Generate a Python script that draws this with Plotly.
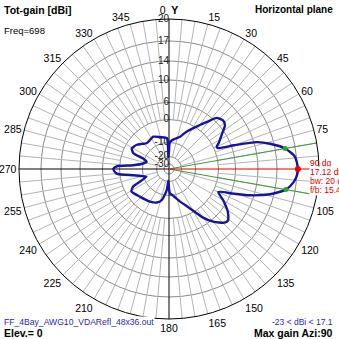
import numpy as np
import plotly.graph_objects as go

# ---------------- data ----------------
azimuth_deg = [0, 2, 10, 19, 25, 33, 39, 43, 48, 52, 57, 62, 65, 67, 70, 73, 76, 80, 84, 87,
               90, 93, 96, 100, 104, 108, 111, 115, 120, 126, 131, 134, 140, 145, 152, 161,
               170, 178, 180, 183, 186, 193, 200, 210, 226, 239, 244, 251, 256, 260, 265,
               270, 273, 276, 282, 288, 292, 294, 299, 307, 313, 319, 326, 334, 345, 356,
               357, 360]
gain_dbi = [-16, -9.7, -8.3, -6.7, -3.6, 0.4, 3.9, 6.6, 7.1, 6.8, 4.7, 2.5, 1.1, 1.4, 6.5,
            10.6, 13.2, 15.5, 16.7, 17.0, 17.12, 17.0, 16.6, 15.6, 13.2, 9.3, 6.4, 1.7, 4.6,
            7.1, 8.1, 7.9, 6.4, 3.5, -2.1, -6.5, -9.5, -11.6, -15, -21, -13.9, -7.7, -6.0,
            -5.1, -4.1, -2.5, -4.2, -11.8, -9.0, -5.8, 1.1, 2.2, 1.0, -5.9, -10.0, -12.1,
            -9.4, -4.6, -3.0, -4.0, -5.5, -6.7, -6.5, -5.9, -7.2, -8.1, -21, -16]

max_azi = [90]
max_gain = [17.12]
bw_azi = [80, 100]
bw_gain = [15.5, 15.6]

ring_db = [-30, -20, -10, 0, 6, 10, 14, 17, 20]
ring_labels = ["-30", "-20", "-10", "0", "6", "10", "14", "17", "20"]
azi_ticks = list(range(0, 360, 15))
# the 90 label is covered by the max-gain readout in the original
azi_ticktext = ["0  <b>Y</b>"] + [("" if a == 90 else str(a)) for a in azi_ticks[1:]]

# ------------- radial scale (ARRL-like, dB -> pixel radius) -------------
RING_PX = [5, 12.5, 26.5, 49.5, 66.5, 89, 108, 128, 150]
RMAX = 150.0


def rs(db):
    return np.interp(np.asarray(db, dtype=float), ring_db, RING_PX)


FONT = "Liberation Sans Narrow, Arial Narrow, Liberation Sans, sans-serif"
fig = go.Figure()

# spokes
sp_r, sp_t = [], []
for a in range(0, 360, 5):
    if a % 90 == 0:
        continue
    r0 = rs(-20) if a % 15 == 0 else rs(0)
    sp_r += [float(r0), RMAX, None]
    sp_t += [a, a, None]
fig.add_trace(go.Scatterpolar(r=sp_r, theta=sp_t, mode="lines", connectgaps=False,
                              line=dict(color="#b4b4b4", width=1), hoverinfo="skip"))

# black axes
fig.add_trace(go.Scatterpolar(r=[RMAX, 0, RMAX], theta=[0, 0, 180], mode="lines",
                              line=dict(color="black", width=1), hoverinfo="skip"))
fig.add_trace(go.Scatterpolar(r=[RMAX, 0], theta=[270, 270], mode="lines",
                              line=dict(color="black", width=1), hoverinfo="skip"))

# beamwidth lines (green) and max direction (red)
for a in bw_azi:
    fig.add_trace(go.Scatterpolar(r=[0, RMAX], theta=[a, a], mode="lines",
                                  line=dict(color="#3c9a3c", width=1), hoverinfo="skip"))
fig.add_trace(go.Scatterpolar(r=[0, RMAX], theta=[max_azi[0], max_azi[0]], mode="lines",
                              line=dict(color="#e00000", width=1), hoverinfo="skip"))

# radial labels
fig.add_trace(go.Scatterpolar(r=rs(ring_db), theta=[0] * len(ring_db), mode="text",
                              text=ring_labels, textposition="middle left",
                              textfont=dict(family=FONT, size=10, color="#222222"),
                              hoverinfo="skip"))

# pattern
fig.add_trace(go.Scatterpolar(r=rs(gain_dbi), theta=azimuth_deg, mode="lines",
                              line=dict(color="#1414a0", width=2.4, shape="spline", smoothing=0.6),
                              hoverinfo="skip"))

# markers
fig.add_trace(go.Scatterpolar(r=rs(bw_gain), theta=bw_azi, mode="markers",
                              marker=dict(color="#22aa22", size=5), hoverinfo="skip"))
fig.add_trace(go.Scatterpolar(r=rs(max_gain), theta=max_azi, mode="markers",
                              marker=dict(color="#ee0000", size=6), hoverinfo="skip"))

W = 339
fig.update_layout(
    width=W, height=W, margin=dict(l=0, r=0, t=0, b=0),
    paper_bgcolor="white", showlegend=False,
    polar=dict(
        domain=dict(x=[19 / W, 319 / W], y=[20 / W, 320 / W]),
        bgcolor="white",
        radialaxis=dict(range=[0, RMAX], tickvals=list(rs(ring_db)), showticklabels=False,
                        ticks="", showline=False, gridcolor="#8a8a8a", gridwidth=1),
        angularaxis=dict(rotation=90, direction="clockwise", tickmode="array",
                         tickvals=azi_ticks, ticktext=azi_ticktext, showgrid=False,
                         ticks="", linecolor="black", linewidth=1,
                         tickfont=dict(family=FONT, size=10.5, color="black")),
    ),
)


def ann(text, x, y, xa="left", size=10, color="black", bold=False, bg=None):
    fig.add_annotation(text=f"<b>{text}</b>" if bold else text, x=x / W, y=1 - y / W,
                       xref="paper", yref="paper", xanchor=xa, yanchor="middle",
                       showarrow=False, font=dict(family=FONT, size=size, color=color),
                       bgcolor=bg, borderpad=0)


ann("Tot-gain [dBi]", 3, 10, size=10.5, bold=True)
ann("Freq=698", 3, 31, size=9.5)
ann("Horizontal plane", 334, 10, xa="right", size=10, bold=True)
ann("90 dg", 309, 163, size=8.5, color="#e00000")
ann("17.12 dB", 309, 172, size=8.5, color="#e00000", bg="white")
ann("bw: 20 dg", 309, 181, size=8.5, color="#e00000", bg="white")
ann("f/b: 15.4 dB", 309, 190, size=8.5, color="#e00000", bg="white")
ann("FF_4Bay_AWG10_VDARefl_48x36.out", 3, 322, size=8.6, color="#2a2aa8", bg="white")
ann("Elev.= 0", 3, 333, size=10.5, bold=True)
ann("-23 &lt; dBi &lt; 17.1", 334, 322, xa="right", size=8.5, color="#2a2aa8")
ann("Max gain Azi:90", 334, 333, xa="right", size=10.5, bold=True)

fig.write_html("out.html")
